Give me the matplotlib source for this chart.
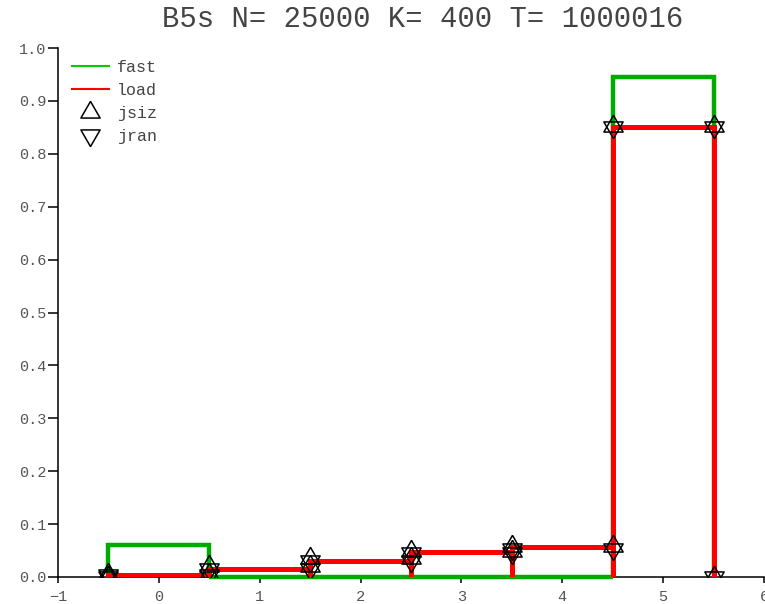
import numpy as np
import matplotlib.pyplot as plt
from matplotlib.lines import Line2D

# bin centres 0..5, each bin one unit wide
bins = np.arange(6)
fast = [0.060, 0.0, 0.0, 0.0, 0.0, 0.945]
load = [0.004, 0.015, 0.031, 0.047, 0.057, 0.851]
jsiz = [0.006, 0.020, 0.036, 0.050, 0.058, 0.852]
jran = [0.003, 0.016, 0.030, 0.045, 0.053, 0.850]

title = "B5s N= 25000 K= 400 T= 1000016"

plt.rcParams['font.family'] = ['Liberation Mono', 'DejaVu Sans Mono']

# equilateral triangles centred on their centroid, so up+down make a hexagram
tri_up = [(0, 1), (-0.866, -0.5), (0.866, -0.5), (0, 1)]
tri_dn = [(0, -1), (-0.866, 0.5), (0.866, 0.5), (0, -1)]

edges = np.append(bins - 0.5, bins[-1] + 0.5)


def outline(vals):
    xs = np.repeat(edges, 2)
    ys = np.concatenate([[0], np.repeat(vals, 2), [0]])
    return xs, ys


fig = plt.figure(figsize=(7.65, 6.04), dpi=100)
ax = fig.add_axes([58 / 765, 27 / 604, 706 / 765, 529 / 604])

for i in range(len(bins)):
    ax.stairs([fast[i]], edges[i:i + 2], baseline=0, color='#00aa00',
              lw=3.2, zorder=2.6, clip_on=False)
for i in range(len(bins)):
    ax.stairs([load[i]], edges[i:i + 2], baseline=0, color='#ff0000',
              lw=3.6, zorder=3)

for vals, mk in ((jsiz, tri_up), (jran, tri_dn)):
    xs, ys = outline(vals)
    ax.plot(xs, ys, linestyle='none', marker=mk, ms=16, mfc='none',
            mec='black', mew=1.1, zorder=4)

ax.set_xlim(-1, 6)
ax.set_ylim(0, 1.0)
ax.set_xticks(np.arange(-1, 7))
ax.set_yticks(np.arange(0, 1.01, 0.1))
ax.set_yticklabels([f"{v:.1f}" for v in np.arange(0, 1.01, 0.1)])
for s in ('top', 'right'):
    ax.spines[s].set_visible(False)
for s in ('left', 'bottom'):
    ax.spines[s].set_linewidth(1.1)
ax.tick_params(axis='y', length=7.5, width=1.1, pad=1, labelsize=11,
               labelcolor='#555555')
ax.tick_params(axis='x', length=4.5, width=1.1, pad=5, labelsize=11,
               labelcolor='#555555')

handles = [
    Line2D([], [], color='#00cc00', lw=1.5),
    Line2D([], [], color='#ff0000', lw=1.5),
    Line2D([], [], linestyle='none', marker=tri_up, ms=16, mfc='none',
           mec='black', mew=1.1),
    Line2D([], [], linestyle='none', marker=tri_dn, ms=16, mfc='none',
           mec='black', mew=1.1),
]
leg = fig.legend(handles, ['fast', 'load', 'jsiz', 'jran'],
                 loc='upper left', bbox_to_anchor=(72 / 765, 1 - 60 / 604),
                 frameon=False, fontsize=12, handlelength=2.2,
                 handletextpad=0.5, borderpad=0, borderaxespad=0,
                 labelspacing=0.48)
for t in leg.get_texts():
    t.set_color('#444444')

fig.text(423 / 765, 1 - 19 / 604, title, ha='center', va='center',
         fontsize=20.8, color='#444444')

fig.savefig('out.png', dpi=100)
